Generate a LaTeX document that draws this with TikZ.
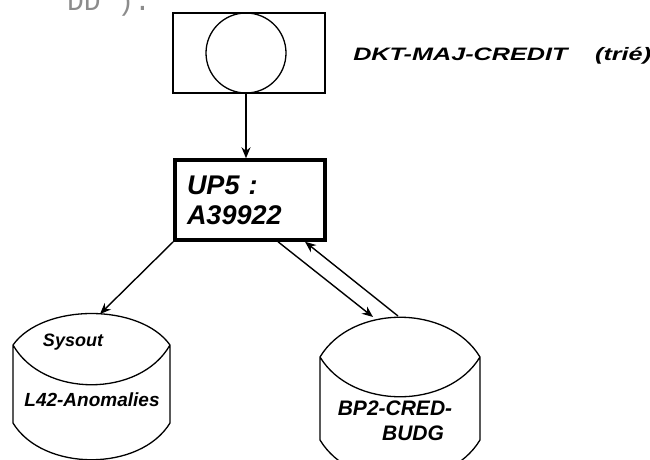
\documentclass[tikz,border=0pt]{standalone}
\usepackage{fontspec}
\setmainfont{Liberation Sans}
\newfontfamily\typewr{Liberation Mono}
\usetikzlibrary{arrows.meta,positioning}

\begin{document}
\begin{tikzpicture}[
  x=1pt, y=-1pt,
  hand/.style 2 args={font=\fontsize{#1}{#2}\selectfont\bfseries\itshape,
                      text=black, inner sep=0pt},
  frame/.style={draw, line width=1.3pt, minimum width=152pt,
                minimum height=80pt, inner sep=0pt},
  fcirc/.style={draw, circle, line width=1.3pt, minimum size=80pt, inner sep=0pt},
  prog/.style={draw, line width=3.5pt, minimum width=150pt, minimum height=80pt,
               text width=126pt, align=left},
  arr/.style={-{Stealth[length=11pt,width=9pt]}, line width=1.4pt},
  disk/.style={draw, line width=1.3pt, line join=round}
]
\useasboundingbox (0,0) rectangle (650,460);

% ================= cut-off line of the page above =================
\node[text=black!45, font=\typewr\fontsize{28}{28}\selectfont,
      anchor=base west, inner sep=0pt] (note) at (50,11) {"DD").};

% ================= input file =================
\node[frame] (file) at (249,53) {};
\node[fcirc] (filec) at (246,53) {};
\node[hand={18}{20}, anchor=base west, xscale=1.4] (filelab) at (353,60)
  {DKT-MAJ-CREDIT\hspace{1.1em}(trié)};

% ================= program =================
\node[prog, hand={27}{30}] (up) at (250,200) {UP5 :\\A39922};
\draw[arr] (filec.south) -- (filec.south |- up.north);

% ================= output disks =================
\draw[disk] (13,345) .. controls (43,303) and (140,303) .. (170,345)
  .. controls (140,398) and (43,398) .. (13,345) -- (13,423)
  .. controls (43,472) and (140,472) .. (170,423) -- (170,345);
\coordinate (sysin) at (100,314);
\node[hand={18}{20}] (sysname) at (73,342) {Sysout};
\node[hand={19}{20}] (l42) at (92,400) {L42-Anomalies};

\draw[disk] (320,357) .. controls (352,304) and (448,304) .. (480,357)
  .. controls (448,410) and (352,410) .. (320,357) -- (320,440)
  .. controls (352,493) and (448,493) .. (480,440) -- (480,357);
\coordinate (bpin) at (373,317);
\coordinate (bpout) at (398,316);
\node[hand={21}{24}] (bpname) at (395,408) {BP2-CRED-};
\node[hand={21}{24}] (bpbudg) at (413,433) {BUDG};

% ================= connectors =================
\draw[arr] (up.south west) -- (sysin);
\draw[arr] ([xshift=28pt]up.south) -- (bpin);
\draw[arr] (bpout) -- ([xshift=55pt]up.south);

\end{tikzpicture}
\end{document}
